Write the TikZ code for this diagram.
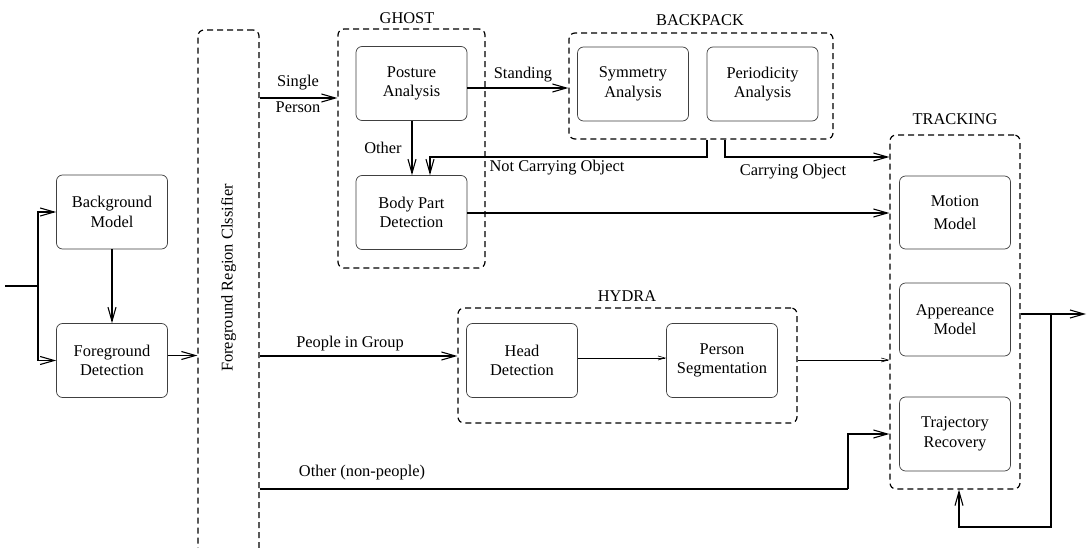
\documentclass[tikz,border=0pt]{standalone}
\usepackage{fontspec}
\setmainfont{Liberation Serif}
\usetikzlibrary{arrows.meta}
\begin{document}
\begin{tikzpicture}[x=1pt,y=-1pt,
  every node/.style={font=\fontsize{16.4}{19.5}\selectfont, inner sep=0pt},
  box/.style={draw=black!75, line width=0.7pt, rounded corners=6pt, align=center,
              minimum width=111pt, minimum height=74pt},
  group/.style={draw=black, dash pattern=on 6pt off 4pt, line width=1.2pt,
                rounded corners=6pt},
  line/.style={line width=1.1pt},
  arr/.style={line width=1.1pt, -{Straight Barb[length=14pt,width=8pt,line width=1.1pt]}},
  thinarr/.style={line width=0.6pt, -{Straight Barb[length=7pt,width=4pt,line width=0.6pt]}},
  lbl/.style={align=center}
]
\useasboundingbox[fill=white] (0,0) rectangle (1087,548);

% dashed containers
\node[group, minimum width=61pt, minimum height=540pt] (clf) at (228.5,300) {};
\node[rotate=90] (clflbl) at (228.5,278) {Foreground Region Clssifier};
\node[group, minimum width=147pt, minimum height=239pt] (ghost) at (411.5,148.5) {};
\node (ghostlbl) at (407,18) {GHOST};
\node[group, minimum width=264pt, minimum height=106pt] (backpack) at (701,86) {};
\node (backpacklbl) at (700,20) {BACKPACK};
\node[group, minimum width=339pt, minimum height=115pt] (hydra) at (627.5,365.5) {};
\node (hydralbl) at (627,296) {HYDRA};
\node[group, minimum width=130pt, minimum height=354pt] (tracking) at (955,312) {};
\node (trackinglbl) at (955,119) {TRACKING};

% boxes
\node[box] (bg) at (112,212) {Background\\Model};
\node[box] (fg) at (112,360.5) {Foreground\\Detection};
\node[box] (posture) at (411.5,83.5) {Posture\\Analysis};
\node[box] (body) at (411.5,212.5) {Body Part\\Detection};
\node[box] (sym) at (633,84) {Symmetry\\Analysis};
\node[box] (per) at (762.5,84) {Periodicity\\Analysis};
\node[box] (head) at (522,360.5) {Head\\Detection};
\node[box] (pseg) at (722,360.5) {Person\\Segmentation};
\node[box, minimum height=73pt] (motion) at (955,212.5) {Motion\\[4pt]Model};
\node[box, minimum height=73pt] (appear) at (955,319.5) {Appereance\\Model};
\node[box] (traj) at (955,434) {Trajectory\\Recovery};

% coordinates
\coordinate (in) at (5,286);
\coordinate (split) at (38,286);
\coordinate (nc1) at (707,157);
\coordinate (nc2) at (430,157);
\coordinate (c1) at (725,157);
\coordinate (o1) at (848,489);
\coordinate (o2) at (848,434);
\coordinate (out) at (1086,314);
\coordinate (fb1) at (1051,314);
\coordinate (fb2) at (959,527);

% connectors
\draw[line] (in) -- (split);
\draw[arr] (split) |- (bg.west);
\draw[arr] (split) |- (fg.west);
\draw[arr] (bg.south) -- (fg.north);
\draw[arr] (fg.east |- 0,355.5) -- (clf.west |- 0,355.5);

\draw[arr] (clf.east |- 0,98) -- (ghost.west |- 0,98);
\node (single) at (298,83) {Single};
\node (person) at (298,107) {Person};

\draw[arr] (posture.east |- 0,88) -- (backpack.west |- 0,88);
\node (standing) at (523,75) {Standing};

\draw[arr] (posture.south -| 412,0) -- (body.north -| 412,0);
\node (otherlbl) at (383,148) {Other};

\draw[arr] (backpack.south -| nc1) -- (nc1) -- (nc2) -- (body.north -| nc2);
\node (ncl) at (557,168) {Not Carrying Object};

\draw[arr] (backpack.south -| c1) |- (tracking.west |- c1);
\node (cl) at (793,172) {Carrying Object};

\draw[arr] (body.east |- 0,213) -- (tracking.west |- 0,213);

\draw[arr] (clf.east |- 0,356) -- (hydra.west |- 0,356);
\node (pig) at (350,344) {People in Group};
\draw[thinarr] (head.east |- 0,358) -- (pseg.west |- 0,358);
\draw[thinarr] (hydra.east |- 0,360) -- (tracking.west |- 0,360);

\draw[line] (clf.east |- o1) -- (o1);
\draw[arr] (o1) -- (o2) -- (tracking.west |- o2);
\node (onp) at (362,473) {Other (non-people)};

\draw[arr] (tracking.east |- out) -- (out);
\draw[arr] (fb1) |- (fb2) -- (tracking.south -| fb2);
\end{tikzpicture}
\end{document}
